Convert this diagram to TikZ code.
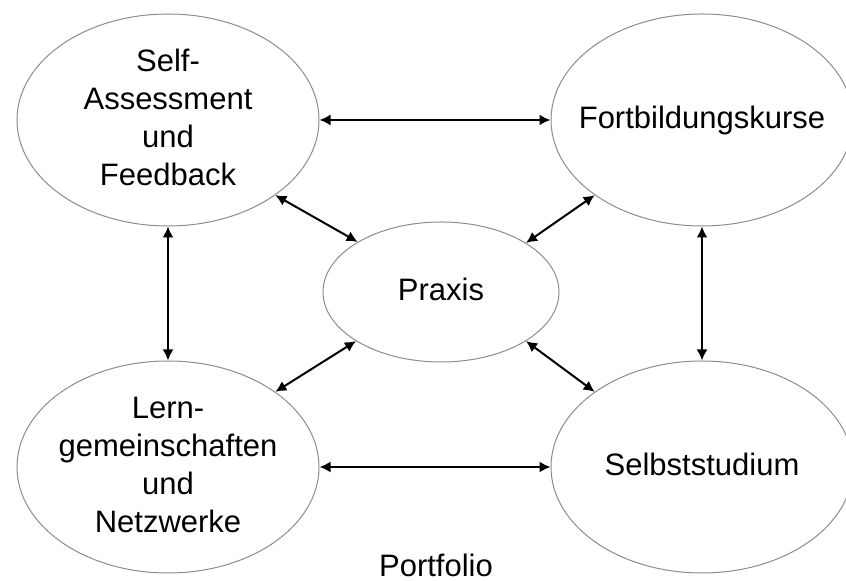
\documentclass[tikz,border=0pt]{standalone}
\usepackage{fontspec}
\setmainfont{Liberation Sans}
\usetikzlibrary{arrows.meta,
                shapes.geometric,
                positioning}

% text block centred on the node, without widening the ellipse
\newcommand{\btext}[1]{\makebox[0pt]{\smash{\raisebox{-3.9pt}{\begin{tabular}{@{}c@{}}#1\end{tabular}}}}}

\begin{document}
\begin{tikzpicture}[
        x=0.5pt, y=-0.5pt,
        every node/.style={font=\fontsize{15.5}{19}\selectfont},
        bubble/.style={ellipse, draw=black!45, line width=0.5pt, inner sep=0pt, minimum width=151pt, minimum height=106pt},
        small bubble/.style={bubble, minimum width=118pt, minimum height=70pt},
        link/.style={{Latex[length=5.5pt,width=5.5pt]}-{Latex[length=5.5pt,width=5.5pt]}, line width=1pt}
        ]
        \useasboundingbox (0,0) rectangle (846,581);

        % Nodes
        \node[bubble] (selfass) at (168,120) {\btext{Self-\\Assessment\\und\\Feedback}};
        \node[bubble] (fortbild) at (702,120) {\btext{Fortbildungskurse}};
        \node[small bubble] (praxis) at (441,292) {\btext{Praxis}};
        \node[bubble] (lerngem) at (168,467) {\btext{Lern-\\gemeinschaften\\und\\Netzwerke}};
        \node[bubble] (selbst) at (702,467) {\btext{Selbststudium}};
        \node[inner sep=0pt] (portfolio) at (436,565) {Portfolio};

        % Arrows
        \draw[link] (selfass) -- (fortbild);
        \draw[link] (lerngem) -- (selbst);
        \draw[link] (selfass) -- (lerngem);
        \draw[link] (fortbild) -- (selbst);
        \draw[link] (selfass.-35) -- (praxis.149);
        \draw[link] (fortbild.-145) -- (praxis.30);
        \draw[link] (lerngem.35) -- (praxis.-150);
        \draw[link] (selbst.145) -- (praxis.-30);

\end{tikzpicture}
\end{document}
